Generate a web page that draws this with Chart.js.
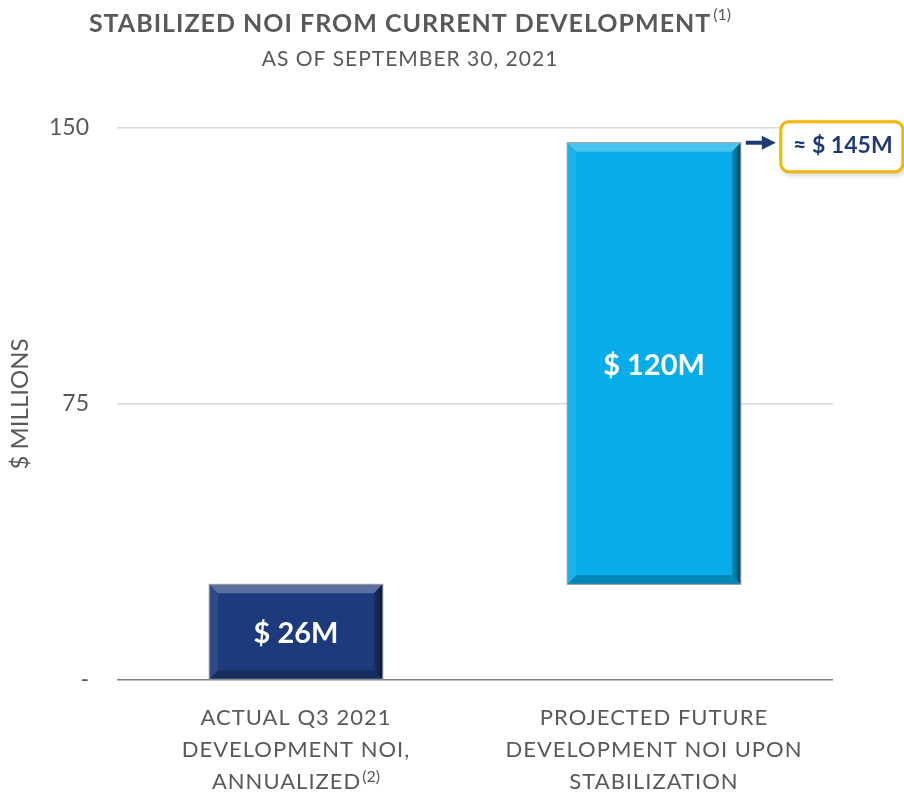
<!DOCTYPE html>
<html lang="en">
<head>
  <meta charset="UTF-8" />
  <title>Stabilized NOI</title>
  <script src="https://cdn.jsdelivr.net/npm/chart.js"></script>
  <style>
    body { margin: 0; background: #fff; }
    #wrap { position: relative; width: 904px; height: 794px; }
  </style>
</head>
<body>
  <div id="wrap"><canvas id="chart" width="904" height="794"></canvas></div>
  <script>
    // Data
    const categories = [
      ['ACTUAL Q3 2021', 'DEVELOPMENT NOI,', 'ANNUALIZED'],
      ['PROJECTED FUTURE', 'DEVELOPMENT NOI UPON', 'STABILIZATION']
    ];
    const footnotes = ['(2)', ''];
    const barStarts = [0, 26];
    const barEnds = [26, 146];
    const barLabels = ['$ 26M', '$ 120M'];
    const barColors = ['#1d3a7c', '#07ace8'];
    const totalLabel = '\u2248 $ 145M';
    const yTicks = [0, 75, 150];

    const FONT = 'Lato, "Open Sans", sans-serif';
    const GREY = '#595959';
    const NAVY = '#1f3a75';

    const decor = {
      id: 'decor',
      afterDatasetsDraw(chart) {
        const ctx = chart.ctx;
        const meta = chart.getDatasetMeta(0);
        meta.data.forEach((bar, i) => {
          const p = bar.getProps(['x', 'y', 'base', 'width'], true);
          const l = p.x - p.width / 2, r = p.x + p.width / 2;
          const t = Math.min(p.y, p.base), b = Math.max(p.y, p.base);
          const s = 9;
          ctx.save();
          // bevel edges
          const poly = (pts, fill) => {
            ctx.beginPath();
            ctx.moveTo(pts[0][0], pts[0][1]);
            pts.slice(1).forEach(q => ctx.lineTo(q[0], q[1]));
            ctx.closePath();
            ctx.fillStyle = fill;
            ctx.fill();
          };
          poly([[l, t], [r, t], [r - s, t + s], [l + s, t + s]], 'rgba(255,255,255,0.28)');
          poly([[l, t], [l + s, t + s], [l + s, b - s], [l, b]], 'rgba(255,255,255,0.08)');
          const g = ctx.createLinearGradient(r - s, 0, r, 0);
          g.addColorStop(0, 'rgba(0,0,0,0.15)');
          g.addColorStop(1, 'rgba(0,0,0,0.6)');
          poly([[r, t], [r, b], [r - s, b - s], [r - s, t + s]], g);
          poly([[l, b], [r, b], [r - s, b - s], [l + s, b - s]], 'rgba(0,0,0,0.22)');
          ctx.strokeStyle = '#9a9a9a';
          ctx.lineWidth = 1;
          ctx.strokeRect(l, t, r - l, b - t);
          // value label
          ctx.fillStyle = '#fff';
          ctx.font = 'bold 29px ' + FONT;
          ctx.textAlign = 'center';
          ctx.textBaseline = 'middle';
          ctx.fillText(barLabels[i], p.x, (t + b) / 2 + 2);
          ctx.restore();
        });

        // callout for the total
        const last = meta.data[meta.data.length - 1].getProps(['x', 'y', 'width'], true);
        const ay = last.y;
        const ax0 = last.x + last.width / 2 + 5;
        ctx.save();
        ctx.strokeStyle = NAVY;
        ctx.fillStyle = NAVY;
        ctx.lineWidth = 4;
        ctx.beginPath();
        ctx.moveTo(ax0, ay);
        ctx.lineTo(ax0 + 18, ay);
        ctx.stroke();
        ctx.beginPath();
        ctx.moveTo(ax0 + 30, ay);
        ctx.lineTo(ax0 + 16, ay - 7);
        ctx.lineTo(ax0 + 16, ay + 7);
        ctx.closePath();
        ctx.fill();

        const bx = ax0 + 35, by = ay - 21, bw = 122, bh = 50;
        ctx.shadowColor = 'rgba(0,0,0,0.3)';
        ctx.shadowBlur = 6;
        ctx.shadowOffsetX = 2;
        ctx.shadowOffsetY = 2;
        ctx.beginPath();
        ctx.roundRect(bx, by, bw, bh, 8);
        ctx.fillStyle = '#fff';
        ctx.fill();
        ctx.shadowColor = 'transparent';
        ctx.strokeStyle = '#f2b700';
        ctx.lineWidth = 3;
        ctx.stroke();
        ctx.fillStyle = NAVY;
        ctx.font = 'bold 23px ' + FONT;
        ctx.textAlign = 'center';
        ctx.textBaseline = 'middle';
        ctx.fillText(totalLabel, bx + bw / 2 + 1, by + bh / 2 - 1);
        ctx.restore();
      },
      afterDraw(chart) {
        const ctx = chart.ctx;
        const xs = chart.scales.x;
        ctx.save();
        ctx.fillStyle = GREY;
        ctx.textBaseline = 'middle';

        // title with superscript
        const title = 'STABILIZED NOI FROM CURRENT DEVELOPMENT';
        ctx.letterSpacing = '1px';
        ctx.font = 'bold 25px ' + FONT;
        const tw = ctx.measureText(title).width;
        ctx.letterSpacing = '0px';
        ctx.font = '16px ' + FONT;
        const sw = ctx.measureText('(1)').width;
        let x0 = 410 - (tw + sw + 2) / 2;
        ctx.letterSpacing = '1px';
        ctx.font = 'bold 25px ' + FONT;
        ctx.textAlign = 'left';
        ctx.fillText(title, x0, 24);
        ctx.letterSpacing = '0px';
        ctx.font = '16px ' + FONT;
        ctx.fillText('(1)', x0 + tw + 2, 15);

        ctx.letterSpacing = '1px';
        ctx.font = '21px ' + FONT;
        ctx.textAlign = 'center';
        ctx.fillText('AS OF SEPTEMBER 30, 2021', 410, 59);

        // category labels
        categories.forEach((lines, i) => {
          const cx = xs.getPixelForValue(i);
          lines.forEach((line, j) => {
            const y = 718 + j * 32;
            ctx.letterSpacing = '1px';
            ctx.font = '22px ' + FONT;
            if (j === lines.length - 1 && footnotes[i]) {
              const lw = ctx.measureText(line).width;
              ctx.letterSpacing = '0px';
              ctx.font = '16px ' + FONT;
              const fw = ctx.measureText(footnotes[i]).width;
              const sx = cx - (lw + fw + 1) / 2;
              ctx.textAlign = 'left';
              ctx.letterSpacing = '1px';
              ctx.font = '22px ' + FONT;
              ctx.fillText(line, sx, y);
              ctx.letterSpacing = '0px';
              ctx.font = '16px ' + FONT;
              ctx.fillText(footnotes[i], sx + lw + 1, y - 5);
              ctx.textAlign = 'center';
            } else {
              ctx.textAlign = 'center';
              ctx.fillText(line, cx, y);
            }
          });
        });
        ctx.restore();
      }
    };

    new Chart(document.getElementById('chart'), {
      type: 'bar',
      data: {
        labels: categories.map(c => c.join(' ')),
        datasets: [{
          data: barStarts.map((s, i) => [s, barEnds[i]]),
          backgroundColor: barColors,
          borderWidth: 0,
          categoryPercentage: 1,
          barPercentage: 0.485
        }]
      },
      options: {
        responsive: false,
        animation: false,
        layout: { padding: { top: 128, bottom: 114, right: 71, left: 0 } },
        plugins: { legend: { display: false }, tooltip: { enabled: false } },
        scales: {
          x: { display: false },
          y: {
            min: 0,
            max: 150,
            afterFit: s => { s.width = 117; },
            afterBuildTicks: s => { s.ticks = yTicks.map(v => ({ value: v })); },
            border: { display: false },
            grid: {
              drawTicks: false,
              lineWidth: 1.5,
              color: c => c.tick && c.tick.value === 0 ? '#7f7f7f' : '#d9d9d9'
            },
            ticks: {
              padding: 28,
              color: GREY,
              font: { family: FONT, size: 23 },
              callback: v => v === 0 ? '-' : v
            },
            title: {
              display: true,
              text: '$ MILLIONS',
              color: GREY,
              font: { family: FONT, size: 24 },
              padding: { top: 6, bottom: 0 }
            }
          }
        }
      },
      plugins: [decor]
    });
  </script>
</body>
</html>
